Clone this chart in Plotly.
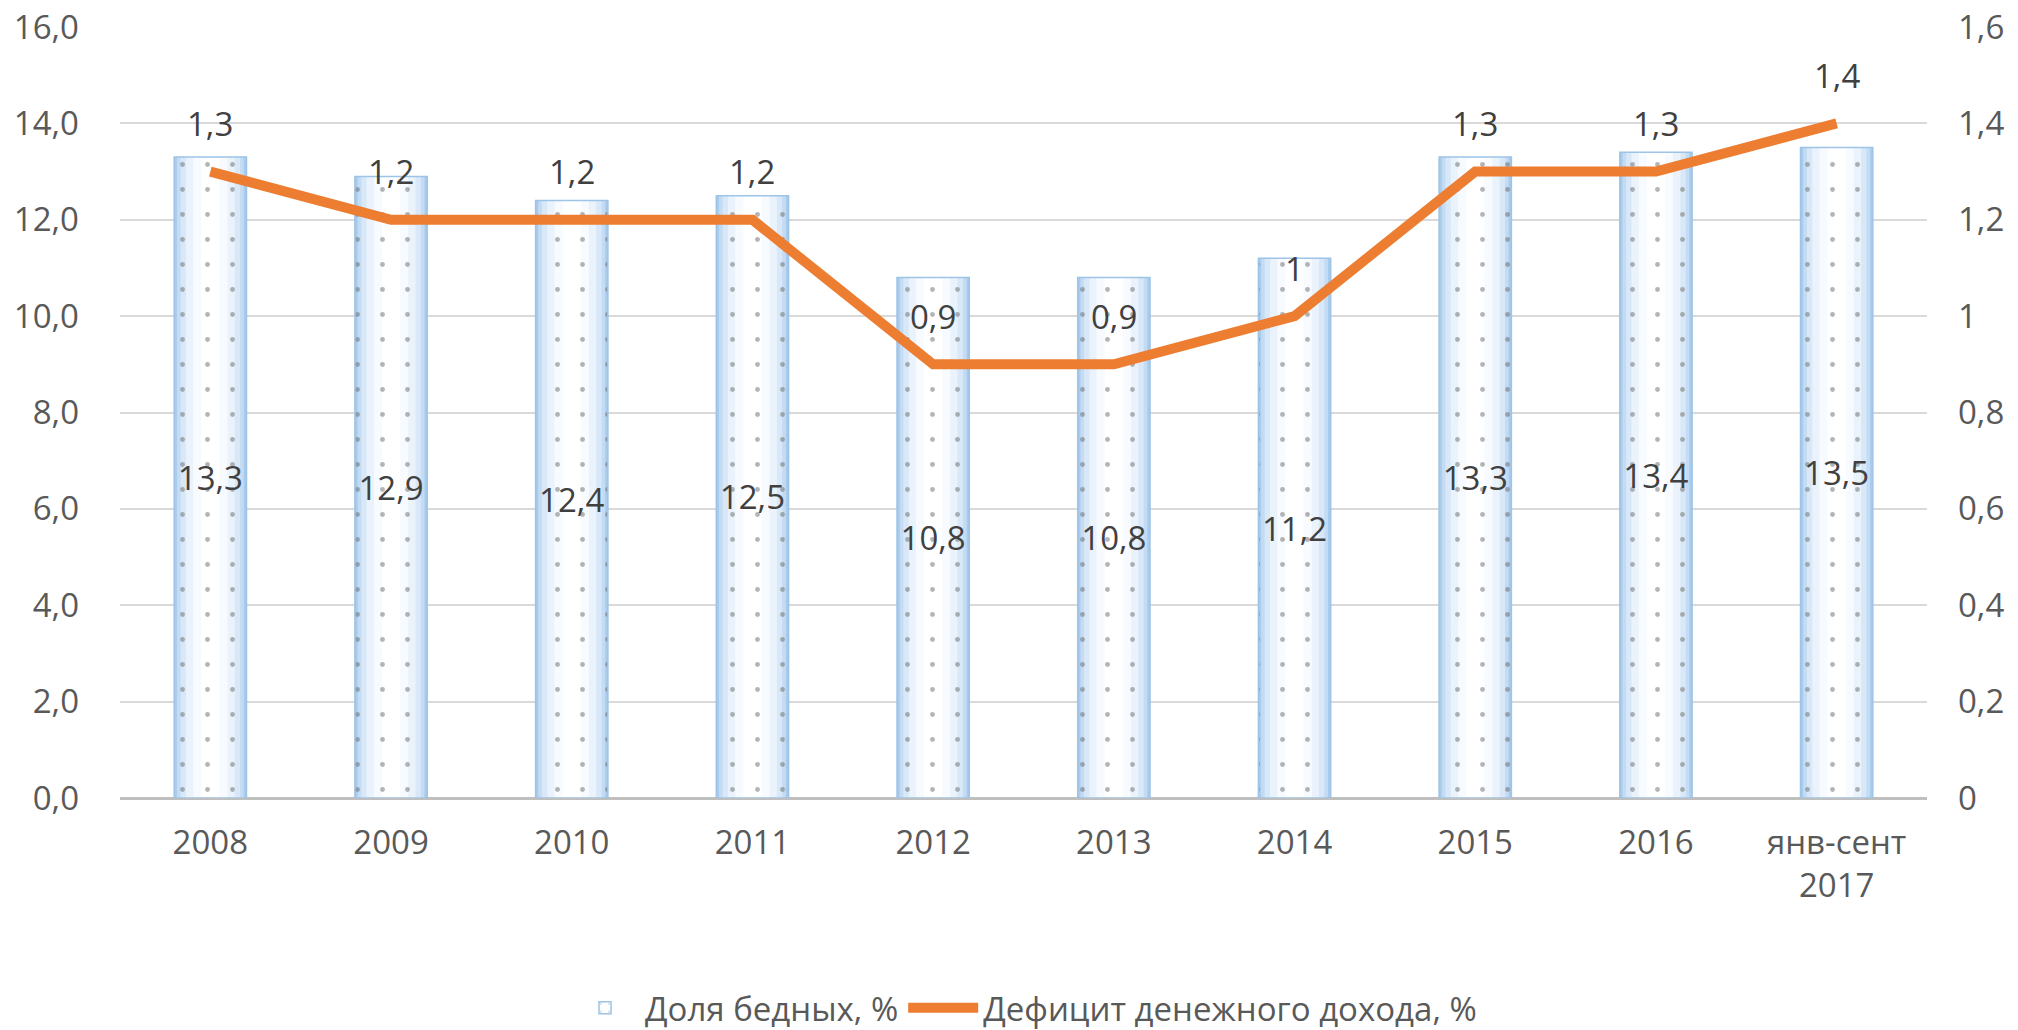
import plotly.graph_objects as go

categories = ["2008", "2009", "2010", "2011", "2012", "2013", "2014", "2015", "2016", "янв-сент<br>2017"]
poor_share = [13.3, 12.9, 12.4, 12.5, 10.8, 10.8, 11.2, 13.3, 13.4, 13.5]
deficit = [1.3, 1.2, 1.2, 1.2, 0.9, 0.9, 1.0, 1.3, 1.3, 1.4]
deficit_labels = ["1,3", "1,2", "1,2", "1,2", "0,9", "0,9", "1", "1,3", "1,3", "1,4"]
poor_labels = [f"{v:.1f}".replace(".", ",") for v in poor_share]

FONT = "Open Sans"
GREY = "#595959"
FS = 33

fig = go.Figure()

# gradient layers for bars (edges blue, center white)
layers = [(0.40, "#a9cbec"), (0.37, "#c3dbf3"), (0.33, "#d9e8f8"), (0.27, "#eaf3fc"), (0.19, "#f7fbff"), (0.10, "#ffffff")]
for w, c in layers:
    fig.add_trace(go.Bar(x=categories, y=poor_share, width=w, marker=dict(color=c, line=dict(width=0)),
                         showlegend=False, hoverinfo="skip", yaxis="y"))

fig.add_trace(go.Bar(
    x=categories, y=poor_share, width=0.40, name="Доля бедных, %",
    marker=dict(color="rgba(0,0,0,0)", line=dict(color="#9dc3e6", width=1.5),
                pattern=dict(shape=".", fgcolor="#6a6a6a", bgcolor="rgba(0,0,0,0)", size=25, solidity=0.03)),
    text=poor_labels, textposition="inside", insidetextanchor="middle", textangle=0,
    constraintext="none", textfont=dict(family=FONT, size=FS, color="#404040"),
    yaxis="y",
))

fig.add_trace(go.Scatter(
    x=categories, y=deficit, mode="lines", name="Дефицит денежного дохода, %",
    line=dict(color="#ed7d31", width=10), yaxis="y2",
))

for i, (v, t) in enumerate(zip(deficit, deficit_labels)):
    fig.add_annotation(x=i, y=v, xref="x", yref="y2", text=t, showarrow=False, yshift=48,
                       font=dict(family=FONT, size=FS, color="#404040"))

fig.update_layout(
    width=2018, height=1030,
    paper_bgcolor="white", plot_bgcolor="white",
    margin=dict(l=112, r=99, t=19, b=240, autoexpand=False),
    barmode="overlay",
    separators=", ",
    font=dict(family=FONT, size=FS, color=GREY),
    xaxis=dict(type="category", range=[-0.5, len(categories) - 0.5], showgrid=False, showline=False, ticks="",
               tickfont=dict(size=FS, color=GREY), ticklabelstandoff=22, automargin=False),
    yaxis=dict(range=[0, 16], dtick=2, tickformat=".1f", showgrid=True, gridcolor="#d9d9d9", gridwidth=2,
               zeroline=True, zerolinecolor="#bfbfbf", zerolinewidth=3, showline=False, ticks="",
               ticklabelstandoff=40, ticklabeloverflow="allow", tickfont=dict(size=FS, color=GREY), automargin=False),
    yaxis2=dict(range=[0, 1.6], dtick=0.2, overlaying="y", side="right", showgrid=False, zeroline=False,
                showline=False, ticks="", ticklabelstandoff=30, ticklabeloverflow="allow",
                tickfont=dict(size=FS, color=GREY), automargin=False),
    legend=dict(orientation="h", x=0.5, xanchor="center", y=-0.272, yanchor="middle",
                font=dict(family=FONT, size=FS, color=GREY), itemwidth=70, traceorder="normal"),
    showlegend=True,
)

fig.write_html("out.html")
